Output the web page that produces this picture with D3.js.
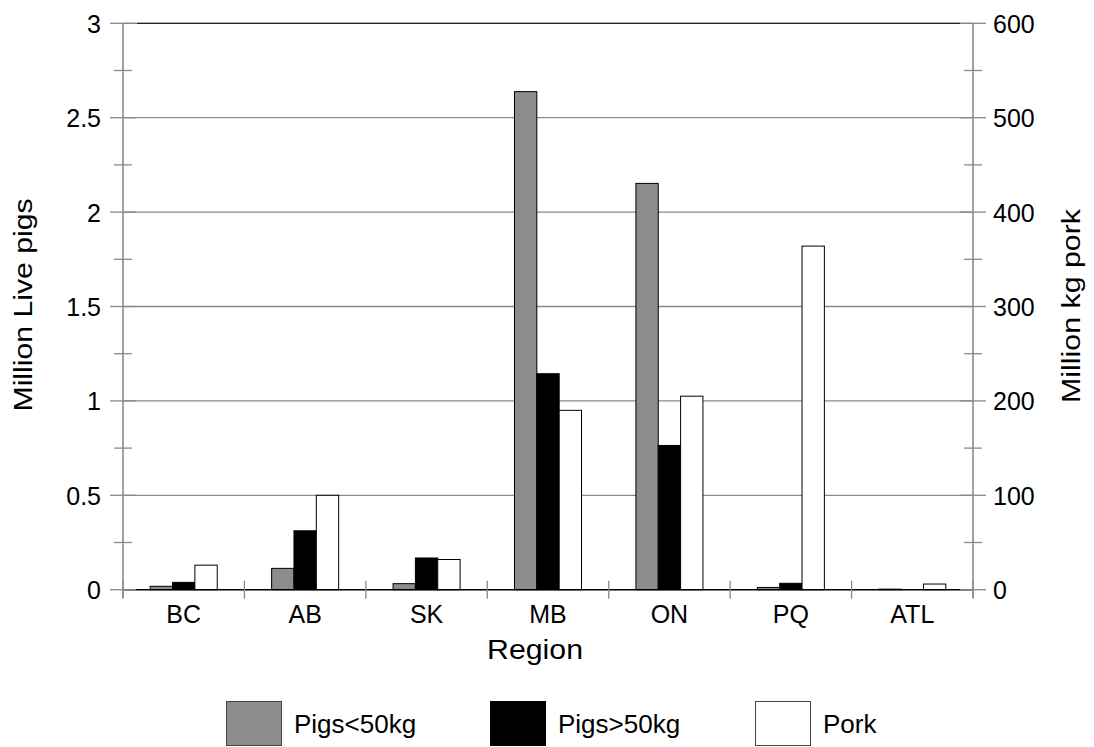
<!DOCTYPE html>
<html><head><meta charset="utf-8">
<script src="https://cdn.jsdelivr.net/npm/d3@7"></script>
<style>body{margin:0;background:#fff}svg{display:block;font-family:"Liberation Sans",Arial,sans-serif}</style>
</head><body><svg id="c" width="1094" height="747"></svg>
<script>
const regions = ["BC","AB","SK","MB","ON","PQ","ATL"];
const pigsUnder50 = [0.018,0.113,0.032,2.638,2.152,0.012,0.003];
const pigsOver50 = [0.039,0.312,0.168,1.144,0.764,0.034,0.0];
const porkKg = [26,100,32,190,205,364,6];
const leftTicks = [0,0.5,1,1.5,2,2.5,3];
const rightTicks = [0,100,200,300,400,500,600];
const seriesNames = ["Pigs<50kg","Pigs>50kg","Pork"];
const seriesColors = ["#8c8c8c","#000000","#ffffff"];

const svg = d3.select("#c");
const FF = "Liberation Sans, Arial, sans-serif";
const L = 123, R = 973, T = 23.3, B = 589.7;
const x = d3.scaleBand().domain(regions).range([L,R]).paddingInner(0.448).paddingOuter(0.224);
const xi = d3.scaleBand().domain([0,1,2]).range([0,x.bandwidth()]);
const yL = d3.scaleLinear().domain([0,3]).range([B,T]);
const yR = d3.scaleLinear().domain([0,600]).range([B,T]);
const grid = "#8a8a8a";

// gridlines
svg.append("g").selectAll("line").data(leftTicks.filter(d=>d>0)).join("line")
  .attr("x1",L).attr("x2",R).attr("y1",d=>yL(d)).attr("y2",d=>yL(d))
  .attr("stroke",grid).attr("stroke-width",1.3);
svg.append("line").attr("x1",L+14).attr("x2",R-13).attr("y1",T).attr("y2",T).attr("stroke","#222").attr("stroke-width",1.2);

// bars
const data = regions.map((r,i)=>[
  {r,k:0,v:pigsUnder50[i],s:yL},
  {r,k:1,v:pigsOver50[i],s:yL},
  {r,k:2,v:porkKg[i],s:yR}]).flat();
svg.append("g").selectAll("rect").data(data.filter(d=>d.v>0)).join("rect")
  .attr("x",d=>x(d.r)+xi(d.k)).attr("width",xi.bandwidth())
  .attr("y",d=>d.s(d.v)).attr("height",d=>B-d.s(d.v))
  .attr("fill",d=>seriesColors[d.k]).attr("stroke","#000").attr("stroke-width",1);

// baseline
svg.append("line").attr("x1",L).attr("x2",R).attr("y1",B).attr("y2",B).attr("stroke","#000").attr("stroke-width",1.5);

// left axis
const la = svg.append("g").attr("transform",`translate(${L},0)`);
la.call(d3.axisLeft(yL).tickValues(leftTicks).tickSize(0).tickFormat(d3.format("~g")))
  .call(g=>g.select(".domain").remove());
la.selectAll("text").attr("x",-22).attr("dy","0.36em").attr("font-size",25).attr("fill","#000").attr("font-family",FF);
la.append("line").attr("y1",T).attr("y2",B+8).attr("stroke",grid).attr("stroke-width",1.6);
la.selectAll(".maj").data(leftTicks).join("line").attr("class","maj")
  .attr("x1",-13).attr("x2",13).attr("y1",d=>yL(d)).attr("y2",d=>yL(d)).attr("stroke",grid).attr("stroke-width",1.3);
la.selectAll(".min").data(d3.range(0.25,3,0.5)).join("line").attr("class","min")
  .attr("x1",-9).attr("x2",9).attr("y1",d=>yL(d)).attr("y2",d=>yL(d)).attr("stroke",grid).attr("stroke-width",1.3);

// right axis
const ra = svg.append("g").attr("transform",`translate(${R},0)`);
ra.call(d3.axisRight(yR).tickValues(rightTicks).tickSize(0))
  .call(g=>g.select(".domain").remove());
ra.selectAll("text").attr("x",20).attr("dy","0.36em").attr("font-size",25).attr("fill","#000").attr("font-family",FF);
ra.append("line").attr("y1",T).attr("y2",B+8).attr("stroke",grid).attr("stroke-width",1.6);
ra.selectAll(".maj").data(rightTicks).join("line").attr("class","maj")
  .attr("x1",-13).attr("x2",13).attr("y1",d=>yR(d)).attr("y2",d=>yR(d)).attr("stroke",grid).attr("stroke-width",1.3);
ra.selectAll(".min").data(d3.range(50,600,100)).join("line").attr("class","min")
  .attr("x1",-9).attr("x2",9).attr("y1",d=>yR(d)).attr("y2",d=>yR(d)).attr("stroke",grid).attr("stroke-width",1.3);

// bottom axis
const ba = svg.append("g").attr("transform",`translate(0,${B})`);
ba.call(d3.axisBottom(x).tickSize(0)).call(g=>g.select(".domain").remove());
ba.selectAll("text").attr("y",33.8).attr("dy",0).attr("font-size",25).attr("fill","#000").attr("font-family",FF);
const step = x.step();
ba.selectAll(".ct").data(d3.range(regions.length+1)).join("line").attr("class","ct")
  .attr("x1",d=>L+d*step).attr("x2",d=>L+d*step).attr("y1",-9).attr("y2",9)
  .attr("stroke",grid).attr("stroke-width",1.3);

// titles
svg.append("text").attr("x",535).attr("y",659).attr("text-anchor","middle").attr("font-size",28)
  .attr("textLength",96).attr("lengthAdjust","spacingAndGlyphs").text("Region");
svg.append("text").attr("transform","translate(31.7,305) rotate(-90)").attr("text-anchor","middle").attr("font-size",26)
  .attr("textLength",213).attr("lengthAdjust","spacingAndGlyphs").text("Million Live pigs");
svg.append("text").attr("transform","translate(1080,306) rotate(-90)").attr("text-anchor","middle").attr("font-size",26)
  .attr("textLength",194).attr("lengthAdjust","spacingAndGlyphs").text("Million kg pork");

// legend
const legX = [226,490,755];
const lg = svg.append("g").selectAll("g").data(seriesNames).join("g")
  .attr("transform",(d,i)=>`translate(${legX[i]},701)`);
lg.append("rect").attr("x",0.5).attr("y",0.5).attr("width",55).attr("height",44).attr("fill",(d,i)=>seriesColors[i]).attr("stroke",(d,i)=>i===1?"#000":"#444").attr("stroke-width",1);
lg.append("text").attr("x",68).attr("y",32).attr("font-size",26).text(d=>d);
</script>
</body></html>
